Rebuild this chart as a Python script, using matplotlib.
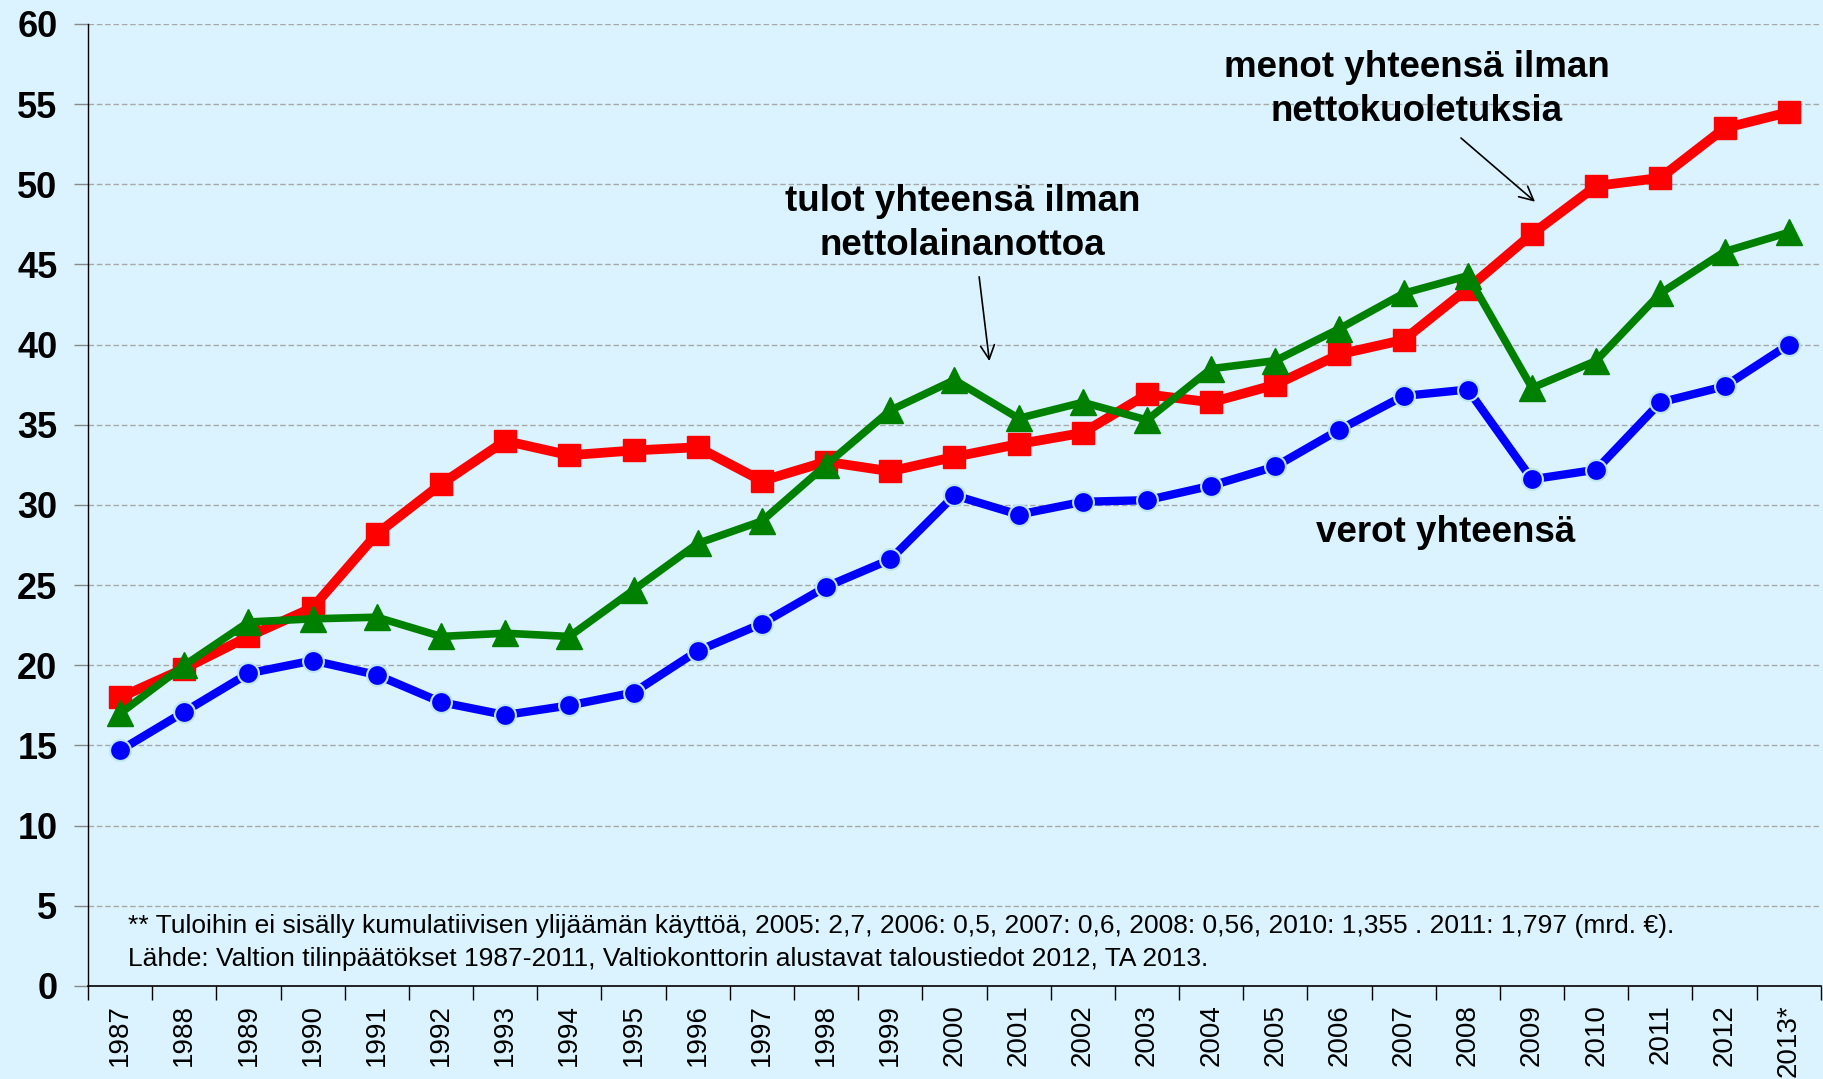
import matplotlib
matplotlib.use("Agg")
import matplotlib.pyplot as plt
import numpy as np

plt.rcParams['font.family'] = ['Liberation Sans', 'DejaVu Sans']

years = ["1987", "1988", "1989", "1990", "1991", "1992", "1993", "1994", "1995",
         "1996", "1997", "1998", "1999", "2000", "2001", "2002", "2003", "2004",
         "2005", "2006", "2007", "2008", "2009", "2010", "2011", "2012", "2013*"]

# menot yhteensä ilman nettokuoletuksia
menot = [18.0, 19.8, 21.8, 23.6, 28.2, 31.3, 34.0, 33.1, 33.4, 33.6, 31.5, 32.7, 32.1,
         33.0, 33.8, 34.5, 36.9, 36.4, 37.5, 39.4, 40.3, 43.5, 46.9, 49.9, 50.4, 53.5, 54.5]
# tulot yhteensä ilman nettolainanottoa
tulot = [17.0, 20.0, 22.7, 22.9, 23.0, 21.8, 22.0, 21.8, 24.7, 27.6, 29.0, 32.5, 35.9,
         37.8, 35.4, 36.4, 35.3, 38.5, 39.0, 41.0, 43.2, 44.3, 37.3, 39.0, 43.2, 45.8, 47.0]
# verot yhteensä
verot = [14.7, 17.1, 19.5, 20.3, 19.4, 17.7, 16.9, 17.5, 18.3, 20.9, 22.6, 24.9, 26.6,
         30.6, 29.4, 30.2, 30.3, 31.2, 32.4, 34.7, 36.8, 37.2, 31.6, 32.2, 36.4, 37.4, 40.0]

yticks = list(range(0, 61, 5))

footnote = ("** Tuloihin ei sisälly kumulatiivisen ylijäämän käyttöä, 2005: 2,7, 2006: 0,5, "
            "2007: 0,6, 2008: 0,56, 2010: 1,355 . 2011: 1,797 (mrd. €).\n"
            "Lähde: Valtion tilinpäätökset 1987-2011, Valtiokonttorin alustavat taloustiedot 2012, TA 2013.")

BG = "#DAF3FE"

fig = plt.figure(figsize=(18.23, 10.79), dpi=100)
fig.patch.set_facecolor(BG)
ax = fig.add_axes([0.0483, 0.0862, 0.9505, 0.8916])
ax.set_facecolor(BG)

x = np.arange(len(years))

ax.plot(x, verot, color="#0000FF", lw=6, marker="o", ms=15,
        mfc="#0000FF", mec="#BDE6EE", mew=1.5, zorder=3)
ax.plot(x, menot, color="#FF0000", lw=7, marker="s", ms=16,
        mfc="#FF0000", mec="#FF0000", zorder=4)
ax.plot(x, tulot, color="#008000", lw=5.5, marker="^", ms=19,
        mfc="#008000", mec="#008000", zorder=5)

ax.set_xlim(-0.5, len(years) - 0.5)
ax.set_ylim(0, 60)

ax.set_yticks(yticks)
ax.set_yticklabels([str(v) for v in yticks], fontsize=26, fontweight="bold")
ax.tick_params(axis="y", direction="out", length=10, width=1, color="#888888", pad=12)
ax.yaxis.grid(True, linestyle=(0, (4, 2)), color="#A8A8A8", lw=1)
ax.set_axisbelow(True)

ax.set_xticks(np.arange(len(years) + 1) - 0.5)
ax.set_xticklabels([])
ax.tick_params(axis="x", which="major", direction="out", length=10, width=1)
ax.set_xticks(x, minor=True)
ax.set_xticklabels(years, minor=True, rotation=90, fontsize=20)
ax.tick_params(axis="x", which="minor", length=0, pad=13)

for s in ["top", "right"]:
    ax.spines[s].set_visible(False)
ax.spines["left"].set_linewidth(1)
ax.spines["bottom"].set_linewidth(1.2)

ax.text(20.2, 55.9, "menot yhteensä ilman\nnettokuoletuksia", ha="center", va="center",
        fontsize=26.5, fontweight="bold", linespacing=1.35)
ax.annotate("", xy=(22.08, 48.8), xytext=(20.86, 53.0),
            arrowprops=dict(arrowstyle="->", color="black", lw=1.2, mutation_scale=25))

ax.text(13.13, 47.55, "tulot yhteensä ilman\nnettolainanottoa", ha="center", va="center",
        fontsize=26.5, fontweight="bold", linespacing=1.35)
ax.annotate("", xy=(13.55, 38.8), xytext=(13.38, 44.4),
            arrowprops=dict(arrowstyle="->", color="black", lw=1.2, mutation_scale=25))

ax.text(20.66, 28.3, "verot yhteensä", ha="center", va="center",
        fontsize=26.5, fontweight="bold")

ax.text(0.12, 2.7, footnote, ha="left", va="center", fontsize=19, linespacing=1.45)

fig.savefig("out.png", dpi=100, facecolor=BG)
